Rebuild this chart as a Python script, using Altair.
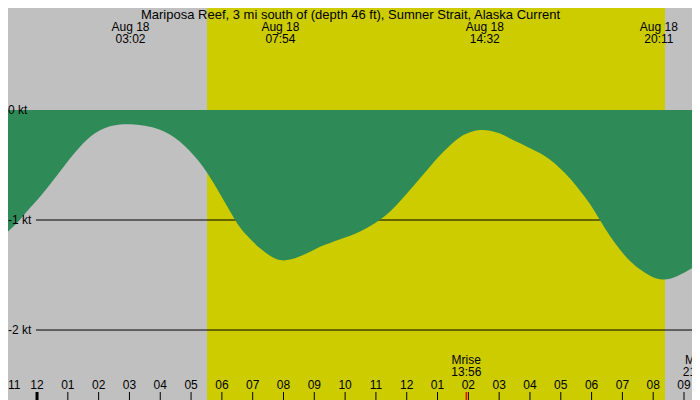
import altair as alt
import pandas as pd

DAY = "2024-08-18"
PREV = "2024-08-17"

# tidal current curve (knots)
curve_times = ["17 22:48", "17 23:07", "17 23:27", "17 23:46", "00:06", "00:25",
               "00:45", "01:04", "01:24", "01:43", "02:03", "02:22", "02:42",
               "03:01", "03:30", "03:59", "04:38", "05:17", "05:37", "05:56",
               "06:16", "06:35", "06:55", "07:14", "07:34", "07:53", "08:13",
               "08:32", "08:52", "09:11", "09:31", "09:50", "10:10", "10:29",
               "10:48", "11:08", "11:27", "11:47", "12:06", "12:26", "12:45",
               "13:05", "13:24", "13:44", "14:03", "14:23", "14:42", "15:02",
               "15:21", "15:41", "16:00", "16:20", "16:39", "16:59", "17:18",
               "17:37", "17:57", "18:16", "18:36", "18:55", "19:15", "19:34",
               "19:54", "20:13", "20:33", "20:52", "21:12", "21:31"]
curve_knots = [-1.17, -1.09, -1.00, -0.89, -0.79, -0.68,
               -0.56, -0.44, -0.33, -0.24, -0.18, -0.145, -0.13,
               -0.127, -0.14, -0.17, -0.27, -0.47, -0.61, -0.76,
               -0.92, -1.076, -1.17, -1.26, -1.33, -1.373, -1.364,
               -1.33, -1.29, -1.24, -1.21, -1.175, -1.145, -1.106,
               -1.06, -1.00, -0.93, -0.83, -0.73, -0.62, -0.515,
               -0.41, -0.32, -0.24, -0.20, -0.177, -0.185, -0.21,
               -0.26, -0.30, -0.35, -0.39, -0.45, -0.53, -0.62,
               -0.73, -0.85, -1.00, -1.15, -1.27, -1.38, -1.45,
               -1.51, -1.545, -1.54, -1.50, -1.45, -1.39]

event_times = ["03:02", "07:54", "14:32", "20:11"]
sunrise, sunset = "05:31", "20:23"
moon_times = ["13:56", "21:27"]
moon_names = ["Mrise", "Mset"]
levels = [0, -1, -2]
grid_levels = [-1, -2]
hour_ticks = ["17 23:00"] + [f"{h:02d}:00" for h in range(0, 22)]

TITLE = "Mariposa Reef, 3 mi south of (depth 46 ft), Sumner Strait, Alaska Current"


def stamp(t):
    if t.startswith("17 "):
        return f"{PREV}T{t[3:]}:00"
    return f"{DAY}T{t}:00"


curve = pd.DataFrame({"t": [stamp(t) for t in curve_times], "kt": curve_knots})
events = pd.DataFrame({"t": [stamp(t) for t in event_times]})
sun = pd.DataFrame({"t": [stamp(sunrise)], "t2": [stamp(sunset)]})
moon = pd.DataFrame({"t": [stamp(t) for t in moon_times],
                     "name": moon_names,
                     "clock": moon_times})
ticks = pd.DataFrame({"t": [stamp(t) for t in hour_ticks]})
ticks["mid"] = ticks["t"] == stamp("00:00")
ticks["first"] = ticks.index == 0
kt = pd.DataFrame({"v": levels, "label": [f"{v} kt" for v in levels]})
grid = pd.DataFrame({"v": grid_levels})

W, H = 684, 392
xs = alt.Scale(domain=[alt.DateTime(year=2024, month=8, date=17, hours=23, minutes=3, seconds=29),
                       alt.DateTime(year=2024, month=8, date=18, hours=21, minutes=15, seconds=33)])
ys = alt.Scale(domain=[-2.636, 0.927], nice=False, zero=False)

X = lambda f="t": alt.X(f"{f}:T", scale=xs, axis=None)

daylight = alt.Chart(sun).mark_rect(color="#cccc00").encode(
    x=X(), x2="t2:T")

gridlines = alt.Chart(grid).mark_rule(color="black", strokeWidth=1).encode(
    y=alt.Y("v:Q", scale=ys, axis=None),
    x=alt.value(28), x2=alt.value(W))

area = alt.Chart(curve).mark_area(color="#2e8b57", interpolate="basis", clip=True).encode(
    x=X(),
    y=alt.Y("kt:Q", scale=ys, axis=None),
    y2=alt.datum(0))

kt_labels = alt.Chart(kt).mark_text(align="left", baseline="middle", fontSize=12).encode(
    y=alt.Y("v:Q", scale=ys, axis=None),
    x=alt.value(0),
    text="label:N")

event_labels = alt.Chart(events).transform_calculate(
    txt="timeFormat(datum.t, '%b %d') + '\\n' + timeFormat(datum.t, '%H:%M')"
).mark_text(baseline="top", lineBreak="\n", lineHeight=12, fontSize=12).encode(
    x=X(), y=alt.value(14), text="txt:N")

title = alt.Chart(pd.DataFrame({"t": [stamp("12:00")]})).mark_text(
    baseline="top", fontSize=13, text=TITLE).encode(
    x=alt.value(342.5), y=alt.value(1))

hour_rules = alt.Chart(ticks).mark_rule(color="black").encode(
    x=X(), y=alt.value(384), y2=alt.value(392),
    strokeWidth=alt.condition("datum.mid", alt.value(3), alt.value(1)))

hour_labels = alt.Chart(ticks).transform_filter("!datum.first").mark_text(
    baseline="middle", fontSize=12).encode(
    x=X(), y=alt.value(377), text=alt.Text("t:T", format="%I"))

first_label = alt.Chart(ticks).transform_filter("datum.first").mark_text(
    align="left", baseline="middle", fontSize=12).encode(
    x=alt.value(0), y=alt.value(377), text=alt.Text("t:T", format="%I"))

moon_rules = alt.Chart(moon).mark_rule(color="red", strokeWidth=1.5).encode(
    x=X(), y=alt.value(384), y2=alt.value(392))

moon_labels = alt.Chart(moon).transform_calculate(
    txt="datum.name + '\\n' + datum.clock"
).mark_text(baseline="top", lineBreak="\n", lineHeight=12, fontSize=12).encode(
    x=X(), y=alt.value(347), text="txt:N")

chart = alt.layer(
    daylight, gridlines, area, kt_labels, event_labels, title,
    hour_rules, hour_labels, first_label, moon_rules, moon_labels
).properties(
    width=W, height=H, padding=0,
    autosize=alt.AutoSizeParams(type="none"),
    background="#c0c0c0"
).configure_view(stroke=None).configure_text(font="Liberation Sans", color="black")

chart.save("out.html", embed_options={"renderer": "svg", "actions": False})
